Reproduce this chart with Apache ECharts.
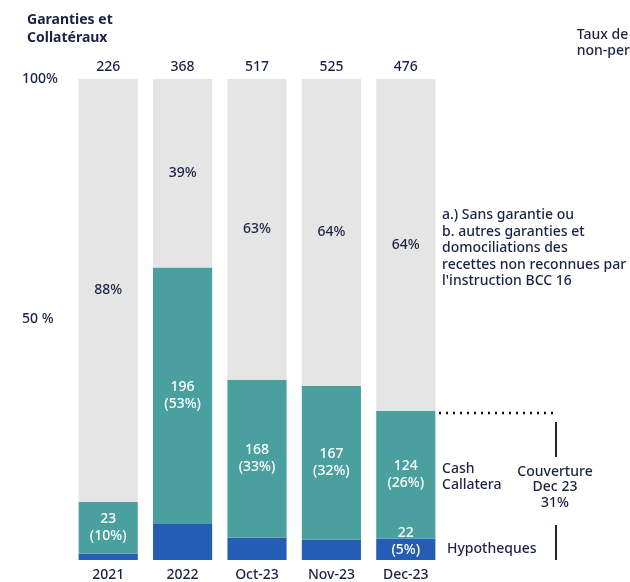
<!DOCTYPE html>
<html><head><meta charset="utf-8">
<script src="https://cdn.jsdelivr.net/npm/echarts@6/dist/echarts.min.js"></script>
<style>html,body{margin:0;padding:0;background:#fff}#c{width:630px;height:582px}</style>
</head><body><div id="c"></div>
<script>
var categories = ['2021', '2022', 'Oct-23', 'Nov-23', 'Dec-23'];
var totals = ['226', '368', '517', '525', '476'];
var hypotheques = [1.3, 7.5, 4.6, 4.2, 4.4];
var cash = [10.8, 53.3, 32.9, 32.0, 26.6];
var sansGarantie = [87.9, 39.2, 62.5, 63.8, 69.0];
var cashLabels = ['23\n(10%)', '196\n(53%)', '168\n(33%)', '167\n(32%)', '124\n(26%)'];
var hypoLabels = ['', '', '', '', '22\n(5%)'];
var sansLabels = ['88%', '39%', '63%', '64%', '64%'];
var yTicks = {100: '100%', 50: '50 %', 0: ''};

var FONT = '"Noto Sans"';
var FS = 14;
var FW = 500;
var DARK = '#1c2244';
var chart = echarts.init(document.getElementById('c'));
var option = {
  animation: false,
  textStyle: {fontFamily: FONT},
  grid: {left: 71, right: 187, top: 79, bottom: 22},
  xAxis: [{
    type: 'category', data: categories,
    axisLine: {show: false}, axisTick: {show: false},
    axisLabel: {color: DARK, fontSize: FS, fontWeight: FW, fontFamily: FONT, margin: 8}
  }, {
    type: 'category', data: totals, position: 'top',
    axisLine: {show: false}, axisTick: {show: false},
    axisLabel: {color: DARK, fontSize: FS, fontWeight: FW, fontFamily: FONT, margin: 5}
  }],
  yAxis: {
    type: 'value', min: 0, max: 100, interval: 50,
    splitLine: {show: false}, axisLine: {show: false}, axisTick: {show: false},
    axisLabel: {color: DARK, fontSize: FS, fontWeight: FW, fontFamily: FONT, align: 'left', margin: 49,
      formatter: function (v) { return yTicks[v] !== undefined ? yTicks[v] : ''; }}
  },
  series: [{
    name: 'Hypotheques', type: 'bar', stack: 's', data: hypotheques, barCategoryGap: '20.5%',
    itemStyle: {color: '#265db4'},
    label: {show: true, position: 'inside', offset: [0, -8], color: '#fff', fontSize: FS, fontWeight: FW, lineHeight: 17,
      formatter: function (p) { return hypoLabels[p.dataIndex]; }}
  }, {
    name: 'Cash', type: 'bar', stack: 's', data: cash,
    itemStyle: {color: '#4aa09f'},
    label: {show: true, position: 'inside', color: '#fff', fontSize: FS, fontWeight: FW, lineHeight: 17,
      formatter: function (p) { return cashLabels[p.dataIndex]; }}
  }, {
    name: 'Sans', type: 'bar', stack: 's', data: sansGarantie,
    itemStyle: {color: '#e5e5e5'},
    label: {show: true, position: 'inside', color: DARK, fontSize: FS, fontWeight: FW,
      formatter: function (p) { return sansLabels[p.dataIndex]; }}
  }],
  graphic: [
    {type: 'text', left: 27, top: 11, style: {text: 'Garanties et\nCollatéraux', font: 'bold 14px ' + FONT, fill: DARK, lineHeight: 18}},
    {type: 'text', right: 0, top: 27, style: {text: 'Taux de\nnon-per', font: FW + ' ' + FS + 'px ' + FONT, fill: DARK, lineHeight: 16, align: 'right'}},
    {type: 'text', left: 442, top: 207, style: {text: "a.) Sans garantie ou\nb. autres garanties et\ndomociliations des\nrecettes non reconnues par\nl'instruction BCC 16", font: FW + ' ' + FS + 'px ' + FONT, fill: DARK, lineHeight: 16.5}},
    {type: 'text', left: 442, top: 461, style: {text: 'Cash\nCallatera', font: FW + ' ' + FS + 'px ' + FONT, fill: DARK, lineHeight: 16}},
    {type: 'text', left: 447, top: 542, style: {text: 'Hypotheques', font: FW + ' ' + FS + 'px ' + FONT, fill: DARK}},
    {type: 'text', x: 555, y: 464, style: {text: 'Couverture\nDec 23\n31%', font: FW + ' ' + FS + 'px ' + FONT, fill: DARK, lineHeight: 15.5, align: 'center'}},
    {type: 'line', shape: {x1: 556, y1: 422, x2: 556, y2: 457}, style: {stroke: DARK, lineWidth: 2}},
    {type: 'line', shape: {x1: 556, y1: 525, x2: 556, y2: 560}, style: {stroke: DARK, lineWidth: 2}}
  ]
};
chart.setOption(option);
var topDec = hypotheques[4] + cash[4];
var pt = chart.convertToPixel({gridIndex: 0}, ['Dec-23', topDec]);
chart.setOption({graphic: option.graphic.concat([
  {type: 'line', shape: {x1: 439, y1: pt[1] + 2, x2: 553, y2: pt[1] + 2}, style: {stroke: '#111', lineWidth: 2.5, lineDash: [2, 5]}}
])});
</script></body></html>
